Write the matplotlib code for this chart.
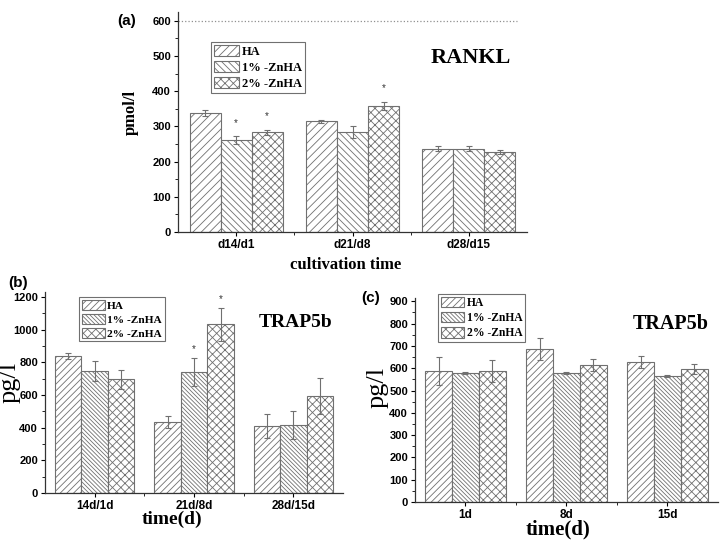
import matplotlib
matplotlib.use('Agg')
import matplotlib.pyplot as plt
import numpy as np

plt.rcParams['hatch.linewidth'] = 0.6
plt.rcParams['hatch.color'] = '#808080'

SERIF = 'Liberation Serif'
SANS = 'Liberation Sans'

series = ['HA', '1% -ZnHA', '2% -ZnHA']

# (a) RANKL
a_cats = ['d14/d1', 'd21/d8', 'd28/d15']
a_ha = [338, 314, 237]
a_ha_err = [8, 3, 8]
a_zn1 = [261, 284, 236]
a_zn1_err = [11, 17, 7]
a_zn2 = [284, 358, 228]
a_zn2_err = [7, 12, 6]
a_stars = [(0, 1), (0, 2), (1, 2)]   # (group, series)

# (b) TRAP5b
b_cats = ['14d/1d', '21d/8d', '28d/15d']
b_ha = [837, 435, 410]
b_ha_err = [20, 37, 75]
b_zn1 = [747, 741, 416]
b_zn1_err = [61, 86, 88]
b_zn2 = [696, 1031, 596]
b_zn2_err = [59, 101, 110]
b_stars = [(1, 1), (1, 2)]

# (c) TRAP5b
c_cats = ['1d', '8d', '15d']
c_ha = [588, 686, 627]
c_ha_err = [61, 50, 27]
c_zn1 = [579, 579, 565]
c_zn1_err = [4, 4, 4]
c_zn2 = [588, 615, 597]
c_zn2_err = [49, 27, 24]


def draw_panel(ax, cats, vals, errs, hatches, ylim, ystep, stars, star_off,
               leg_anchor, leg_size):
    x = np.arange(len(cats))
    w = 0.8 / 3
    for i in range(3):
        ax.bar(x + (i - 1) * w, vals[i], w, color='white', edgecolor='#707070',
               linewidth=0.8, hatch=hatches[i], label=series[i], zorder=2)
        ax.errorbar(x + (i - 1) * w, vals[i], yerr=errs[i], fmt='none',
                    ecolor='#707070', elinewidth=0.8, capsize=2.2,
                    capthick=0.8, zorder=3)
    for g, s in stars:
        ax.text(g + (s - 1) * w, vals[s][g] + errs[s][g] + star_off, '*',
                ha='center', va='center', fontsize=7, color='#333333',
                family=SANS)
    ax.set_xlim(-0.5, 2.5)
    ax.set_ylim(0, ylim)
    ax.set_xticks(x)
    ax.set_xticks([0.5, 1.5], minor=True)
    ax.set_xticklabels(cats, fontsize=8.5, fontweight='bold', family=SANS)
    ax.set_yticks(np.arange(0, ylim, ystep))
    ax.set_yticks(np.arange(ystep / 2, ylim, ystep), minor=True)
    for lab in ax.get_yticklabels():
        lab.set_fontsize(8)
        lab.set_fontweight('bold')
        lab.set_family(SANS)
    ax.tick_params(which='major', direction='out', length=3, width=0.8, pad=2)
    ax.tick_params(which='minor', direction='out', length=2, width=0.6)
    for sp in ['top', 'right']:
        ax.spines[sp].set_visible(False)
    for sp in ['left', 'bottom']:
        ax.spines[sp].set_linewidth(0.9)
        ax.spines[sp].set_color('#333333')
    leg = ax.legend(loc='upper left', bbox_to_anchor=leg_anchor, borderaxespad=0,
                    fancybox=False, edgecolor='#707070', framealpha=1,
                    prop={'family': SERIF, 'weight': 'bold', 'size': leg_size},
                    handlelength=2.0, handleheight=1.0, labelspacing=0.25,
                    handletextpad=0.2, borderpad=0.25)
    leg.get_frame().set_linewidth(0.8)


fig = plt.figure(figsize=(7.24, 5.43), dpi=100)

ax1 = fig.add_axes([0.2459, 0.5727, 0.4820, 0.4052])
ax2 = fig.add_axes([0.0622, 0.0921, 0.4116, 0.3702])
ax3 = fig.add_axes([0.5732, 0.0755, 0.4185, 0.3757])

draw_panel(ax1, a_cats, [a_ha, a_zn1, a_zn2], [a_ha_err, a_zn1_err, a_zn2_err],
           ['////', '\\' * 5, 'xxxx'], 625, 100, a_stars, 38,
           (0.095, 0.864), 9)
draw_panel(ax2, b_cats, [b_ha, b_zn1, b_zn2], [b_ha_err, b_zn1_err, b_zn2_err],
           ['/////', '\\' * 8, 'xxxx'], 1230, 200, b_stars, 53,
           (0.114, 0.975), 8.2)
draw_panel(ax3, c_cats, [c_ha, c_zn1, c_zn2], [c_ha_err, c_zn1_err, c_zn2_err],
           ['/////', '\\' * 8, 'xxxx'], 915, 100, [], 0,
           (0.076, 1.02), 8.4)

ax1.axhline(600, xmin=0, xmax=0.97, color='#909090', linestyle=':',
            linewidth=0.9, zorder=1)

ax1.text(0.84, 0.79, 'RANKL', transform=ax1.transAxes, ha='center',
         va='center', fontsize=16, fontweight='bold', family=SERIF)
ax2.text(0.84, 0.846, 'TRAP5b', transform=ax2.transAxes, ha='center',
         va='center', fontsize=14, fontweight='bold', family=SERIF)
ax3.text(0.845, 0.873, 'TRAP5b', transform=ax3.transAxes, ha='center',
         va='center', fontsize=14.5, fontweight='bold', family=SERIF)

ax1.text(-0.135, 0.545, 'pmol/l', transform=ax1.transAxes, rotation=90,
         ha='center', va='center', fontsize=12, fontweight='bold', family=SERIF)
ax1.text(0.48, -0.15, 'cultivation time', transform=ax1.transAxes,
         ha='center', va='center', fontsize=12, fontweight='bold', family=SERIF)
ax2.text(-0.118, 0.55, 'pg/l', transform=ax2.transAxes, rotation=90,
         ha='center', va='center', fontsize=19, family=SERIF)
ax2.text(0.426, -0.13, 'time(d)', transform=ax2.transAxes,
         ha='center', va='center', fontsize=14, fontweight='bold', family=SERIF)
ax3.text(-0.125, 0.56, 'pg/l', transform=ax3.transAxes, rotation=90,
         ha='center', va='center', fontsize=19, family=SERIF)
ax3.text(0.472, -0.135, 'time(d)', transform=ax3.transAxes,
         ha='center', va='center', fontsize=15, fontweight='bold', family=SERIF)

fig.text(0.175, 0.961, '(a)', ha='center', va='center', fontsize=11,
         fontweight='bold', family=SANS)
fig.text(0.025, 0.479, '(b)', ha='center', va='center', fontsize=11,
         fontweight='bold', family=SANS)
fig.text(0.512, 0.451, '(c)', ha='center', va='center', fontsize=11,
         fontweight='bold', family=SANS)

fig.savefig('out.png', dpi=100)
